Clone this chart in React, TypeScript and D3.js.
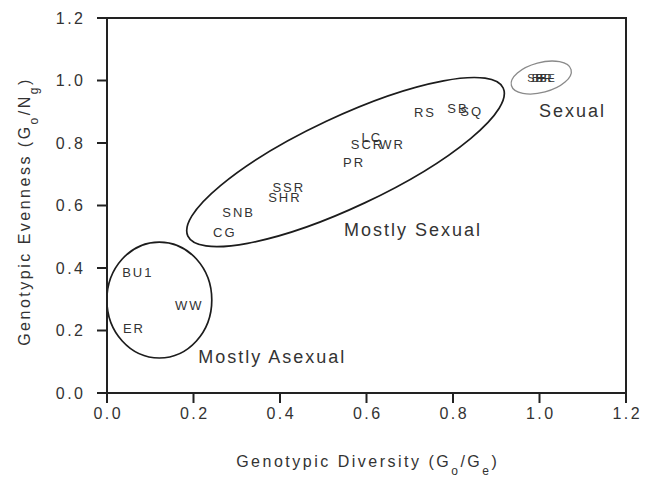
import React from "react";
import * as d3 from "d3";

// ---- data ----
const labels = ["BU1", "ER", "WW", "CG", "SNB", "SSR", "SHR", "PR", "SCR", "LC", "WR", "RS", "SB", "SQ", "SF", "BB", "BR", "FE"];
const diversity = [0.069, 0.06, 0.188, 0.27, 0.302, 0.418, 0.409, 0.569, 0.6, 0.61, 0.657, 0.733, 0.809, 0.841, 0.987, 0.998, 1.008, 1.017];
const evenness = [0.387, 0.208, 0.279, 0.514, 0.578, 0.659, 0.627, 0.739, 0.795, 0.819, 0.795, 0.898, 0.912, 0.902, 1.009, 1.009, 1.009, 1.009];

const xTicks = [0, 0.2, 0.4, 0.6, 0.8, 1.0, 1.2];
const yTicks = [0, 0.2, 0.4, 0.6, 0.8, 1.0, 1.2];

// group ellipses: major-axis end points (data units) and minor/major ratio
const groupNames = ["Mostly Asexual", "Mostly Sexual", "Sexual"];
const groupAxisStart = [[0.121, 0.483], [0.187, 0.502], [0.935, 0.984]];
const groupAxisEnd = [[0.121, 0.112], [0.916, 0.976], [1.073, 1.035]];
const groupRatio = [0.905, 0.259, 0.484];
const groupLabelPos = [[0.211, 0.096], [0.548, 0.502], [0.999, 0.883]];
const groupStroke = ["#1c1c1c", "#1c1c1c", "#8a8a8a"];

const W = 651;
const H = 484;
const FONT = "'Liberation Sans', Arial, Helvetica, sans-serif";
const TXT = "#333";

export default function App() {
  const x = d3.scaleLinear().domain([0, 1.2]).range([107, 626]);
  const y = d3.scaleLinear().domain([0, 1.2]).range([393, 18]);
  const fmt = d3.format(".1f");
  const [x0, x1] = x.range();
  const [y0, y1] = y.range();
  const tickLen = 10;
  const ls = 2.5;

  return (
    <svg
      width={W}
      height={H}
      style={{ position: "absolute", left: 0, top: 0, background: "#fff" }}
      fontFamily={FONT}
    >
      {/* group ellipses */}
      {groupNames.map((g, i) => {
        const ax = x(groupAxisStart[i][0]);
        const ay = y(groupAxisStart[i][1]);
        const bx = x(groupAxisEnd[i][0]);
        const by = y(groupAxisEnd[i][1]);
        const cx = (ax + bx) / 2;
        const cy = (ay + by) / 2;
        const a = Math.hypot(bx - ax, by - ay) / 2;
        const ang = (Math.atan2(by - ay, bx - ax) * 180) / Math.PI;
        return (
          <ellipse
            key={g}
            cx={cx}
            cy={cy}
            rx={a}
            ry={a * groupRatio[i]}
            transform={`rotate(${ang} ${cx} ${cy})`}
            fill="none"
            stroke={groupStroke[i]}
            strokeWidth={i === 2 ? 1.3 : 1.7}
          />
        );
      })}

      {/* group labels */}
      {groupNames.map((g, i) => (
        <text
          key={"gl" + g}
          x={x(groupLabelPos[i][0])}
          y={y(groupLabelPos[i][1])}
          fontSize={18}
          letterSpacing={2}
          fill={TXT}
        >
          {g}
        </text>
      ))}

      {/* point labels */}
      {labels.map((l, i) => (
        <text
          key={l + i}
          x={x(diversity[i])}
          y={y(evenness[i])}
          dx={1}
          dy="0.36em"
          textAnchor="middle"
          fontSize={i >= 14 ? 11 : 13}
          letterSpacing={i >= 14 ? 0.5 : 2}
          fill={TXT}
        >
          {l}
        </text>
      ))}

      {/* frame */}
      <rect x={x0} y={y1} width={x1 - x0} height={y0 - y1} fill="none" stroke="#222" strokeWidth={2} />

      {/* y ticks */}
      {yTicks.map((t) => (
        <g key={"y" + t}>
          <line x1={x0 - tickLen} x2={x0} y1={y(t)} y2={y(t)} stroke="#222" strokeWidth={2} />
          <text
            x={x0 - 24 + ls}
            y={y(t)}
            dy="0.36em"
            textAnchor="end"
            fontSize={16}
            letterSpacing={ls}
            fill={TXT}
          >
            {fmt(t)}
          </text>
        </g>
      ))}

      {/* x ticks */}
      {xTicks.map((t) => (
        <g key={"x" + t}>
          <line x1={x(t)} x2={x(t)} y1={y0} y2={y0 + tickLen} stroke="#222" strokeWidth={2} />
          <text
            x={x(t) + ls / 2}
            y={419}
            textAnchor="middle"
            fontSize={16}
            letterSpacing={ls}
            fill={TXT}
          >
            {fmt(t)}
          </text>
        </g>
      ))}

      {/* x title */}
      <text x={(x0 + x1) / 2 + ls / 2} y={467} textAnchor="middle" fontSize={16} letterSpacing={ls} fill={TXT}>
        Genotypic Diversity (G
        <tspan fontSize={12} dy={8}>o</tspan>
        <tspan dy={-8}>/G</tspan>
        <tspan fontSize={12} dy={8}>e</tspan>
        <tspan dy={-8}>)</tspan>
      </text>

      {/* y title */}
      <text
        transform={`translate(30, ${(y0 + y1) / 2 + 6}) rotate(-90)`}
        textAnchor="middle"
        fontSize={16}
        letterSpacing={ls}
        fill={TXT}
      >
        Genotypic Evenness (G
        <tspan fontSize={12} dy={8}>o</tspan>
        <tspan dy={-8}>/N</tspan>
        <tspan fontSize={12} dy={8}>g</tspan>
        <tspan dy={-8}>)</tspan>
      </text>
    </svg>
  );
}
